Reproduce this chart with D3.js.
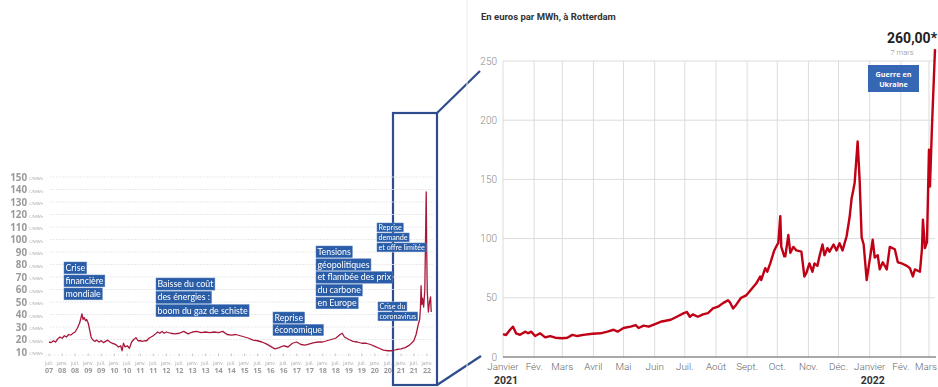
<!DOCTYPE html>
<html><head><meta charset="utf-8">
<script src="https://cdn.jsdelivr.net/npm/d3@7"></script>
<style>html,body{margin:0;padding:0;background:#fff;}svg{display:block}</style>
</head><body>
<svg id="chart" width="938" height="387"></svg>
<script>
// Long-run gas price, €/MWh (2007–2022)
const longDates = ["2007-07-01","2007-08-01","2007-09-01","2007-10-01","2007-11-01","2007-12-01",
 "2008-01-01","2008-02-01","2008-03-01","2008-04-01","2008-05-01","2008-06-01","2008-07-01","2008-08-01","2008-09-01","2008-09-20","2008-10-05","2008-10-20","2008-11-05","2008-11-25","2008-12-10",
 "2009-01-01","2009-01-20","2009-02-10","2009-03-01","2009-04-01","2009-05-01","2009-06-01","2009-07-01","2009-08-01","2009-09-01","2009-10-01","2009-11-01","2009-12-01",
 "2010-01-01","2010-02-01","2010-03-01","2010-04-01","2010-04-20","2010-05-10","2010-06-01","2010-07-01","2010-08-01","2010-09-01","2010-10-01","2010-11-01","2010-12-01",
 "2011-01-01","2011-02-01","2011-03-01","2011-04-01","2011-05-01","2011-06-01","2011-07-01","2011-08-01","2011-09-01","2011-10-01","2011-11-01","2011-12-01",
 "2012-01-01","2012-03-01","2012-05-01","2012-07-01","2012-09-01","2012-11-01",
 "2013-01-01","2013-03-01","2013-05-01","2013-07-01","2013-09-01","2013-11-01",
 "2014-01-01","2014-03-01","2014-05-01","2014-07-01","2014-09-01","2014-11-01",
 "2015-01-01","2015-03-01","2015-05-01","2015-07-01","2015-09-01","2015-11-01",
 "2016-01-01","2016-03-01","2016-05-01","2016-07-01","2016-09-01","2016-11-01",
 "2017-01-01","2017-03-01","2017-05-01","2017-07-01","2017-09-01","2017-11-01",
 "2018-01-01","2018-03-01","2018-05-01","2018-07-01","2018-09-01","2018-10-01","2018-11-01",
 "2019-01-01","2019-03-01","2019-05-01","2019-07-01","2019-09-01","2019-11-01",
 "2020-01-01","2020-03-01","2020-05-01","2020-07-01","2020-09-01","2020-11-01",
 "2021-01-01","2021-03-01","2021-05-01","2021-07-01","2021-08-01","2021-09-01","2021-09-20","2021-10-01","2021-10-10","2021-10-20","2021-11-01","2021-11-15","2021-12-01","2021-12-21","2021-12-28",
 "2022-01-05","2022-01-20","2022-02-05","2022-02-20","2022-03-01"];
const longValues = [18,17.5,19,18,20.5,22,
 21,23,22,24,23.5,25,26,29,33,37,40.5,36,37.5,35,36,
 33,28,22,20,18.5,19.5,18,19,17.5,18.5,19.5,18,17,
 16.5,15.5,14,15,11,17,14,15,13,18,20,21.5,19,
 19,18.5,19,19,21,22,23,24.5,26,25,26.5,25,
 26,25,24.5,25,26.5,24.5,
 26,26.5,25.5,26,25.5,26,
 25.5,26.5,24,23.5,24,23,
 22,21,19.5,19,18,16.5,
 14.5,12.5,13.5,15,14,17,
 18,16,15.5,16.5,17.5,18,
 18,19,20,21,24,25,22,
 20,18.5,18,17,17,16,
 14.5,13,11.5,11,11,12,
 12.5,13.5,15.5,19,24,32,36,45,63,48,53,46,59,138,90,
 58,42,50,54,42];
const longYTicks = [10,20,30,40,50,60,70,80,90,100,110,120,130,140,150];
const longMonthNames = {0:"janv.", 6:"juil."};

// Rotterdam gas price, €/MWh (janvier 2021 – 7 mars 2022)
const zoomDates = ["2021-01-01","2021-01-04","2021-01-08","2021-01-11","2021-01-14","2021-01-18","2021-01-23","2021-01-26","2021-01-29",
 "2021-02-02","2021-02-07","2021-02-12","2021-02-17","2021-02-22","2021-03-01","2021-03-06","2021-03-11","2021-03-16","2021-03-22","2021-03-31",
 "2021-04-08","2021-04-15","2021-04-21","2021-04-25","2021-05-01","2021-05-08","2021-05-13","2021-05-16","2021-05-21","2021-05-26",
 "2021-06-02","2021-06-08","2021-06-17","2021-06-23","2021-06-30","2021-07-03","2021-07-06","2021-07-09","2021-07-14","2021-07-19","2021-07-24","2021-07-29",
 "2021-08-03","2021-08-08","2021-08-13","2021-08-15","2021-08-18","2021-08-21","2021-08-26","2021-08-31",
 "2021-09-05","2021-09-10","2021-09-14","2021-09-15","2021-09-19","2021-09-21","2021-09-24","2021-09-28",
 "2021-10-01","2021-10-02","2021-10-04","2021-10-05","2021-10-08","2021-10-09","2021-10-12","2021-10-14","2021-10-17","2021-10-20","2021-10-25","2021-10-28","2021-10-30",
 "2021-11-02","2021-11-05","2021-11-07","2021-11-10","2021-11-12","2021-11-15","2021-11-17","2021-11-20","2021-11-22","2021-11-26","2021-11-29",
 "2021-12-02","2021-12-05","2021-12-09","2021-12-12","2021-12-14","2021-12-15","2021-12-17","2021-12-20","2021-12-22","2021-12-24","2021-12-26","2021-12-29",
 "2022-01-04","2022-01-06","2022-01-09","2022-01-11","2022-01-14","2022-01-18","2022-01-21","2022-01-26","2022-01-29",
 "2022-02-02","2022-02-07","2022-02-10","2022-02-13","2022-02-15","2022-02-20","2022-02-22","2022-02-23","2022-02-25","2022-02-27",
 "2022-03-01","2022-03-02","2022-03-04","2022-03-07"];
const zoomValues = [19.4,18.5,23,25.6,20,18.7,21.4,20,21.4,
 17.7,20,16.6,17.7,16.3,15.8,16.3,18.7,17.7,18.7,19.6,
 20,21.4,23,21.4,24.5,25.6,27,24.5,26.5,25.6,
 28,30,31.5,34,37,38,34,36,34,36,37,41,
 42.5,45.5,48,46,41,44,50,52,
 57,62,68,65,75,72,79,90,
 95,96,119,93,85,85,103,88,93,90,89,68,71,
 79,72,79,77,85,95,86,92,89,95,90,
 96,90,102,118,134,138,147,182,149,101,95,65,
 99,84,86,74,80,74,93,91,80,
 79,77,75,68,74,72,91,116,92,97,
 175,144,195,260];
const zoomYTicks = [0,50,100,150,200,250];
const zoomMonthLabels = ["Janvier","Fév.","Mars","Avril","Mai","Juin","Juil.","Août","Sept.","Oct.","Nov.","Déc.","Janvier","Fév.","Mars"];
const zoomYearLabels = ["2021","2022"];

const longNotes = [
  {lines:["Crise","financière","mondiale"], x:64, top:262, step:13, fs:8.8},
  {lines:["Baisse du coût","des énergies :","boom du gaz de schiste"], x:156, top:278, step:13.3, fs:8.8},
  {lines:["Reprise","économique"], x:273, top:312, step:12.4, fs:8.8},
  {lines:["Tensions","géopolitiques","et flambée des prix","du carbone","en Europe"], x:316, top:246, step:12.8, fs:8.8},
  {lines:["Reprise","demande","et offre limitée"], x:377, top:223, step:10, fs:7.2},
  {lines:["Crise du","coronavirus"], x:378, top:302, step:10, fs:7.2}
];

const parse = d3.timeParse("%Y-%m-%d");
const longData = longDates.map((d,i)=>({date:parse(d), value:longValues[i]}));
const zoomData = zoomDates.map((d,i)=>({date:parse(d), value:zoomValues[i]}));

const svg = d3.select("#chart");
const defs = svg.append("defs");
defs.append("filter").attr("id","soft").append("feGaussianBlur").attr("stdDeviation",0.35);

/* ---------- connector frame (behind the labels) ---------- */
const frame = svg.append("g").attr("stroke","#2f4d8c").attr("fill","none").attr("stroke-width",2.2);
frame.append("rect").attr("x",393).attr("y",113).attr("width",44).attr("height",272);
frame.append("line").attr("x1",437).attr("y1",113).attr("x2",480).attr("y2",71);
frame.append("line").attr("x1",437).attr("y1",385).attr("x2",481).attr("y2",356);

/* ---------- left panel: 2007–2022 ---------- */
const L = svg.append("g").attr("filter","url(#soft)");
const lx = d3.scaleTime().domain([parse("2007-07-01"), parse("2022-01-01")]).range([49,427]);
const ly = d3.scaleLinear().domain([10,150]).range([352,177]);

L.append("g").selectAll("line").data(longYTicks.filter(v=>v>10)).join("line")
  .attr("x1",50).attr("x2",433).attr("y1",d=>ly(d)).attr("y2",d=>ly(d))
  .attr("stroke","#e4e4e4").attr("stroke-width",0.8).attr("stroke-dasharray","2,1");

L.append("g").selectAll("text").data(longYTicks).join("text")
  .attr("x",27).attr("y",d=>ly(d)+3.5).attr("text-anchor","end")
  .attr("font-family","Open Sans, sans-serif").attr("font-size",9.8).attr("font-weight",700).attr("fill","#9a9a9a")
  .text(d=>d);
L.append("g").selectAll("text").data(longYTicks).join("text")
  .attr("x",29).attr("y",d=>ly(d)+3)
  .attr("font-family","Open Sans, sans-serif").attr("font-size",4.2).attr("fill","#aaa")
  .text("€/MWh");

// baseline ticks
const halfYears = d3.timeMonth.every(6).range(parse("2007-07-01"), parse("2022-01-02"));
L.append("line").attr("x1",46).attr("x2",432).attr("y1",355).attr("y2",355)
  .attr("stroke","#d6d6d6").attr("stroke-width",0.8).attr("stroke-dasharray","1,3");
L.append("g").selectAll("line").data(halfYears).join("line")
  .attr("x1",d=>lx(d)).attr("x2",d=>lx(d)).attr("y1",353.5).attr("y2",356)
  .attr("stroke","#bbb").attr("stroke-width",0.8);
const xt = L.append("g").selectAll("g").data(halfYears).join("g")
  .attr("transform",d=>`translate(${lx(d)},0)`);
xt.append("text").attr("y",365).attr("text-anchor","middle")
  .attr("font-family","Open Sans, sans-serif").attr("font-size",5).attr("fill","#aaa")
  .text(d=>longMonthNames[d.getMonth()]);
xt.append("text").attr("y",373).attr("text-anchor","middle")
  .attr("font-family","Open Sans, sans-serif").attr("font-size",7.2).attr("font-weight",700).attr("fill","#999")
  .text(d=>String(d.getFullYear()%100).padStart(2,"0"));

L.append("path").datum(longData)
  .attr("d", d3.line().x(d=>lx(d.date)).y(d=>ly(d.value)))
  .attr("fill","none").attr("stroke","#a8193a").attr("stroke-width",1.3).attr("stroke-linejoin","round");

// annotation labels
longNotes.forEach(n=>{
  const g = L.append("g");
  n.lines.forEach((t,i)=>{
    const top = n.top + i*n.step;
    const h = n.step - 1.2;
    const rect = g.append("rect").attr("x",n.x).attr("y",top).attr("height",h)
      .attr("fill","#2c5da7").attr("stroke","#5a83c0").attr("stroke-width",0.5);
    const txt = g.append("text").attr("x",n.x+1.5).attr("y",top+h*0.76)
      .attr("font-family","Lato, sans-serif").attr("font-size",n.fs).attr("fill","#fff").text(t);
    rect.attr("width", txt.node().getComputedTextLength()+3);
  });
});

/* ---------- right panel: Rotterdam ---------- */
svg.append("line").attr("x1",467).attr("x2",467).attr("y1",0).attr("y2",387)
  .attr("stroke","#ececec").attr("stroke-width",1);

const R = svg.append("g");
const rx = d3.scaleTime().domain([parse("2021-01-01"), parse("2022-03-07")]).range([503,935]);
const ry = d3.scaleLinear().domain([0,250]).range([357,61]);
const months = d3.timeMonth.range(parse("2021-01-01"), parse("2022-03-02"));

R.append("g").selectAll("line").data(months).join("line")
  .attr("x1",d=>rx(d)).attr("x2",d=>rx(d)).attr("y1",ry(250)).attr("y2",ry(0))
  .attr("stroke","#dcdcdc").attr("stroke-width",1);
R.append("g").selectAll("line").data(zoomYTicks.filter(v=>v>0)).join("line")
  .attr("x1",503).attr("x2",935).attr("y1",d=>ry(d)).attr("y2",d=>ry(d))
  .attr("stroke","#dcdcdc").attr("stroke-width",1);
R.append("line").attr("x1",503).attr("x2",936).attr("y1",ry(0)).attr("y2",ry(0))
  .attr("stroke","#555").attr("stroke-width",1.2);

R.append("g").selectAll("text").data(zoomYTicks).join("text")
  .attr("x",497).attr("y",d=>ry(d)+3.5).attr("text-anchor","end")
  .attr("font-family","Roboto, sans-serif").attr("font-weight",300).attr("font-size",10).attr("fill","#8a8a8a")
  .text(d=>d);

R.append("g").selectAll("text").data(months).join("text")
  .attr("x",(d,i)=> i===months.length-1 ? 937 : rx(d))
  .attr("y",370)
  .attr("text-anchor",(d,i)=> i===months.length-1 ? "end" : "middle")
  .attr("font-family","Roboto, sans-serif").attr("font-weight",300).attr("font-size",9.8).attr("fill","#666")
  .text((d,i)=>zoomMonthLabels[i]);

R.append("g").selectAll("text").data([parse("2021-01-01"), parse("2022-01-01")]).join("text")
  .attr("x",d=>rx(d)+3).attr("y",384).attr("text-anchor","middle")
  .attr("font-family","Roboto, sans-serif").attr("font-weight",700).attr("font-size",10.5).attr("fill","#333")
  .text((d,i)=>zoomYearLabels[i]);

R.append("text").attr("x",481).attr("y",20)
  .attr("font-family","Roboto, sans-serif").attr("font-weight",700).attr("font-size",9.5).attr("fill","#333")
  .text("En euros par MWh, à Rotterdam");

R.append("path").datum(zoomData)
  .attr("d", d3.line().x(d=>rx(d.date)).y(d=>ry(d.value)))
  .attr("fill","none").attr("stroke","#c00014").attr("stroke-width",2.4).attr("stroke-linejoin","round");

const last = zoomData[zoomData.length-1];
R.append("text").attr("x",937).attr("y",43).attr("text-anchor","end")
  .attr("font-family","Roboto, sans-serif").attr("font-weight",700).attr("font-size",14).attr("fill","#222")
  .text(d3.format(".2f")(last.value).replace(".",",") + "*");
R.append("text").attr("x",902).attr("y",55).attr("text-anchor","middle")
  .attr("font-family","Roboto, sans-serif").attr("font-weight",300).attr("font-size",7.5).attr("fill","#888")
  .text("7 mars");

R.append("rect").attr("x",868).attr("y",65).attr("width",51).attr("height",27).attr("fill","#3567b4");
R.append("text").attr("x",893.5).attr("y",76.5).attr("text-anchor","middle")
  .attr("font-family","Open Sans, sans-serif").attr("font-weight",700).attr("font-size",7.2).attr("fill","#fff")
  .text("Guerre en");
R.append("text").attr("x",893.5).attr("y",86.5).attr("text-anchor","middle")
  .attr("font-family","Open Sans, sans-serif").attr("font-weight",700).attr("font-size",7.2).attr("fill","#fff")
  .text("Ukraine");
</script>
</body></html>
